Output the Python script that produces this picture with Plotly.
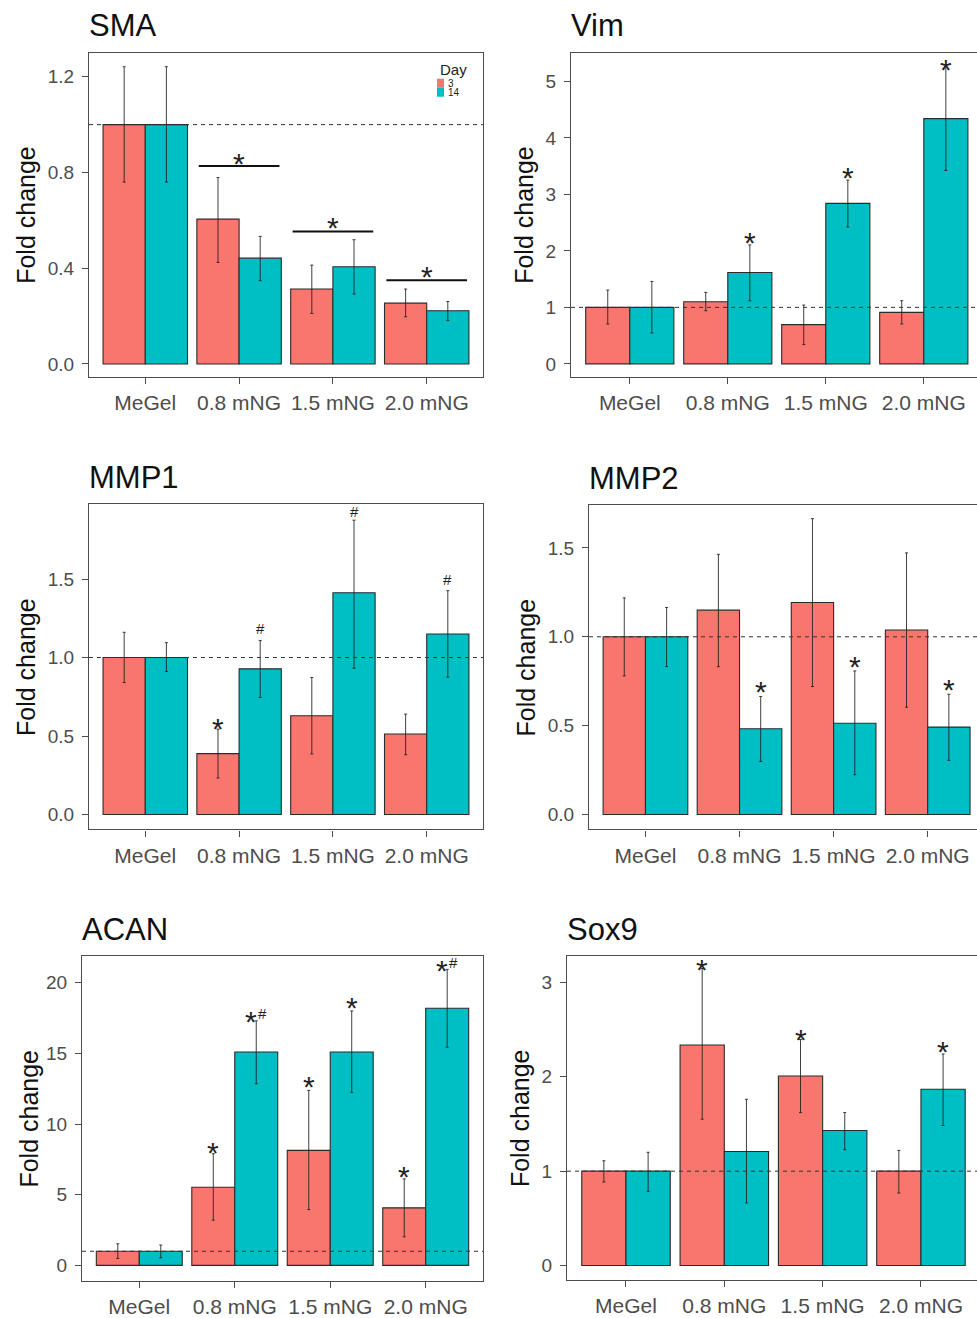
import numpy as np
import plotly.graph_objects as go

W, H = 977, 1318

categories = ["MeGel", "0.8 mNG", "1.5 mNG", "2.0 mNG"]
day_labels = ["3", "14"]
ref_value = 1.0

# ---------------- data (mean, upper error end, lower error end) ----------------
sma_d3 = [1.0, 0.605, 0.313, 0.254]
sma_d3_hi = [1.242, 0.779, 0.413, 0.313]
sma_d3_lo = [0.760, 0.424, 0.211, 0.197]
sma_d14 = [1.0, 0.442, 0.406, 0.222]
sma_d14_hi = [1.242, 0.533, 0.519, 0.261]
sma_d14_lo = [0.760, 0.348, 0.292, 0.181]
sma_sig_line_y = [0.827, 0.553, 0.350]      # for 0.8, 1.5, 2.0 mNG
sma_sig_star_y = [0.869, 0.605, 0.399]

vim_d3 = [1.0, 1.10, 0.694, 0.912]
vim_d3_hi = [1.306, 1.265, 1.041, 1.118]
vim_d3_lo = [0.706, 0.941, 0.341, 0.706]
vim_d14 = [1.0, 1.618, 2.841, 4.341]
vim_d14_hi = [1.459, 2.106, 3.253, 5.26]
vim_d14_lo = [0.547, 1.118, 2.424, 3.424]
vim_marks = [(1, "14", "*", 2.29), (2, "14", "*", 3.44), (3, "14", "*", 5.35)]

mmp1_d3 = [1.0, 0.388, 0.629, 0.513]
mmp1_d3_hi = [1.161, 0.544, 0.873, 0.640]
mmp1_d3_lo = [0.841, 0.233, 0.386, 0.381]
mmp1_d14 = [1.0, 0.928, 1.413, 1.150]
mmp1_d14_hi = [1.095, 1.108, 1.875, 1.426]
mmp1_d14_lo = [0.911, 0.746, 0.932, 0.875]
mmp1_marks = [(1, "3", "*", 0.60), (1, "14", "#", 1.186), (2, "14", "#", 1.93), (3, "14", "#", 1.494)]

mmp2_d3 = [1.0, 1.150, 1.193, 1.038]
mmp2_d3_hi = [1.219, 1.464, 1.665, 1.472]
mmp2_d3_lo = [0.780, 0.832, 0.720, 0.604]
mmp2_d14 = [1.0, 0.483, 0.514, 0.492]
mmp2_d14_hi = [1.165, 0.664, 0.808, 0.677]
mmp2_d14_lo = [0.832, 0.299, 0.224, 0.305]
mmp2_marks = [(1, "14", "*", 0.739), (2, "14", "*", 0.879), (3, "14", "*", 0.748)]

acan_d3 = [1.0, 5.53, 8.14, 4.07]
acan_d3_hi = [1.53, 7.90, 12.38, 6.12]
acan_d3_lo = [0.49, 3.20, 3.95, 2.02]
acan_d14 = [1.0, 15.1, 15.1, 18.19]
acan_d14_hi = [1.44, 17.3, 18.0, 20.94]
acan_d14_lo = [0.54, 12.85, 12.24, 15.44]
acan_marks = [(1, "3", "*", 8.54), (1, "14", "*#", 17.8), (2, "3", "*", 13.2),
              (2, "14", "*", 18.8), (3, "3", "*", 6.82), (3, "14", "*#", 21.4)]

sox9_d3 = [1.0, 2.337, 2.009, 1.0]
sox9_d3_hi = [1.11, 3.148, 2.397, 1.22]
sox9_d3_lo = [0.885, 1.551, 1.621, 0.768]
sox9_d14 = [1.0, 1.209, 1.431, 1.868]
sox9_d14_hi = [1.20, 1.762, 1.621, 2.242]
sox9_d14_lo = [0.786, 0.663, 1.227, 1.484]
sox9_marks = [(1, "3", "*", 3.22), (2, "3", "*", 2.478), (3, "14", "*", 2.348)]

# ---------------- styling ----------------
FONT = "Liberation Sans, Arial, Helvetica, sans-serif"
RED = "#F8766D"
TEAL = "#00BFC4"
AXC = "#4d4d4d"
TEXTC = "#4d4d4d"
STAR_SIZE = 30
HASH_SIZE = 15

panels = [
    dict(title="SMA", data=(sma_d3, sma_d3_hi, sma_d3_lo, sma_d14, sma_d14_hi, sma_d14_lo),
         marks=[], box=(89, 483, 53, 378), xr=[-0.6, 3.6], yr=[-0.054, 1.3],
         yt=[0, 0.4, 0.8, 1.2], yfmt=".1f", ylab_x=26, right=False),
    dict(title="Vim", data=(vim_d3, vim_d3_hi, vim_d3_lo, vim_d14, vim_d14_hi, vim_d14_lo),
         marks=vim_marks, box=(571, 977, 53, 378), xr=[-0.6, 3.543], yr=[-0.23, 5.506],
         yt=[0, 1, 2, 3, 4, 5], yfmt="d", ylab_x=524, right=True),
    dict(title="MMP1", data=(mmp1_d3, mmp1_d3_hi, mmp1_d3_lo, mmp1_d14, mmp1_d14_hi, mmp1_d14_lo),
         marks=mmp1_marks, box=(89, 483, 506, 832), xr=[-0.6, 3.6], yr=[-0.095, 1.975],
         yt=[0, 0.5, 1.0, 1.5], yfmt=".1f", ylab_x=26, right=False),
    dict(title="MMP2", data=(mmp2_d3, mmp2_d3_hi, mmp2_d3_lo, mmp2_d14, mmp2_d14_hi, mmp2_d14_lo),
         marks=mmp2_marks, box=(589, 977, 507, 832), xr=[-0.6, 3.524], yr=[-0.084, 1.739],
         yt=[0, 0.5, 1.0, 1.5], yfmt=".1f", ylab_x=526, right=True),
    dict(title="ACAN", data=(acan_d3, acan_d3_hi, acan_d3_lo, acan_d14, acan_d14_hi, acan_d14_lo),
         marks=acan_marks, box=(82, 483, 959, 1285), xr=[-0.6, 3.6], yr=[-1.11, 21.88],
         yt=[0, 5, 10, 15, 20], yfmt="d", ylab_x=29, right=False),
    dict(title="Sox9", data=(sox9_d3, sox9_d3_hi, sox9_d3_lo, sox9_d14, sox9_d14_hi, sox9_d14_lo),
         marks=sox9_marks, box=(567, 977, 959, 1284), xr=[-0.6, 3.57], yr=[-0.155, 3.28],
         yt=[0, 1, 2, 3], yfmt="d", ylab_x=520, right=True),
]


def px(x):
    return x / W


def py(y):
    return 1 - y / H


fig = go.Figure()
annotations = []
shapes = []
xpos = np.arange(len(categories))
dodge = {"3": -0.225, "14": 0.225}


def star(xa, ya, x, y, xshift=0):
    return dict(text="*", xref=xa, yref=ya, x=x, y=y, xanchor="center", yanchor="middle",
                showarrow=False, yshift=-8, xshift=xshift,
                font=dict(family=FONT, size=STAR_SIZE, color="#222222"))


def hashmark(xa, ya, x, y, xshift=0):
    return dict(text="#", xref=xa, yref=ya, x=x, y=y, xanchor="center", yanchor="middle",
                showarrow=False, yshift=0, xshift=xshift,
                font=dict(family=FONT, size=HASH_SIZE, color="#222222"))


for i, p in enumerate(panels, start=1):
    xa = "x" if i == 1 else f"x{i}"
    ya = "y" if i == 1 else f"y{i}"
    m3, h3, l3, m14, h14, l14 = [np.array(v, dtype=float) for v in p["data"]]
    for mean, hi, lo, col, nm in [(m3, h3, l3, RED, day_labels[0]), (m14, h14, l14, TEAL, day_labels[1])]:
        fig.add_trace(go.Bar(
            x=xpos, y=mean, name=nm, showlegend=False,
            marker=dict(color=col, line=dict(color="#2b2b2b", width=1.1)),
            error_y=dict(type="data", symmetric=False, array=hi - mean, arrayminus=mean - lo,
                         color="rgba(30,30,30,0.85)", thickness=1, width=1.5),
            xaxis=xa, yaxis=ya,
        ))
    l, r, t, b = p["box"]
    fig.update_layout(**{
        ("xaxis" if i == 1 else f"xaxis{i}"): dict(
            domain=[px(l), px(r)], range=p["xr"], anchor=ya,
            tickmode="array", tickvals=list(xpos), ticktext=categories,
            showline=True, mirror=True, linecolor=AXC, linewidth=1.2,
            ticks="outside", ticklen=6, tickcolor=AXC, tickwidth=1.2,
            showgrid=False, zeroline=False, ticklabelstandoff=1,
            tickfont=dict(family=FONT, size=21, color=TEXTC), fixedrange=True),
        ("yaxis" if i == 1 else f"yaxis{i}"): dict(
            domain=[py(b), py(t)], range=p["yr"], anchor=xa,
            tickmode="array", tickvals=p["yt"], tickformat=p["yfmt"],
            showline=True, mirror=not p["right"], linecolor=AXC, linewidth=1.2,
            ticks="outside", ticklen=6, tickcolor=AXC, tickwidth=1.2,
            showgrid=False, zeroline=False, ticklabelstandoff=4,
            tickfont=dict(family=FONT, size=19, color=TEXTC), fixedrange=True),
    })
    # reference dashed line at fold change = 1
    shapes.append(dict(type="line", xref=f"{xa} domain", yref=ya, x0=0, x1=1,
                       y0=ref_value, y1=ref_value,
                       line=dict(color="#333333", width=1, dash="4px,4px"), layer="above"))
    # panel title
    annotations.append(dict(text=p["title"], xref="paper", yref="paper", x=px(l - 2),
                            y=py(t - 27), xanchor="left", yanchor="middle", showarrow=False,
                            font=dict(family=FONT, size=31, color="#111111")))
    # y axis title
    annotations.append(dict(text="Fold change", xref="paper", yref="paper", x=px(p["ylab_x"]),
                            y=py((t + b) / 2), xanchor="center", yanchor="middle",
                            textangle=-90, showarrow=False,
                            font=dict(family=FONT, size=25, color="#111111")))
    # significance marks
    for (ci, day, txt, yv) in p["marks"]:
        xv = ci + dodge[day]
        if txt == "*":
            annotations.append(star(xa, ya, xv, yv))
        elif txt == "#":
            annotations.append(hashmark(xa, ya, xv, yv))
        else:
            annotations.append(star(xa, ya, xv, yv, xshift=-5))
            annotations.append(hashmark(xa, ya, xv, yv, xshift=6))

# SMA significance bars and stars (panel 1)
for k, (ly, sy) in enumerate(zip(sma_sig_line_y, sma_sig_star_y)):
    ci = k + 1
    fig.add_trace(go.Scatter(x=[ci - 0.43, ci + 0.43], y=[ly, ly], mode="lines",
                             line=dict(color="#111111", width=2), showlegend=False,
                             hoverinfo="skip", xaxis="x", yaxis="y"))
    annotations.append(star("x", "y", ci, sy))

# Legend (inside SMA panel, top right)
annotations.append(dict(text="Day", xref="paper", yref="paper", x=px(453), y=py(70),
                        xanchor="center", yanchor="middle", showarrow=False,
                        font=dict(family=FONT, size=15, color="#222222")))
for j, (col, lab) in enumerate([(RED, day_labels[0]), (TEAL, day_labels[1])]):
    y0 = 79 + j * 9
    shapes.append(dict(type="rect", xref="paper", yref="paper", x0=px(437), x1=px(444),
                       y0=py(y0), y1=py(y0 + 9), fillcolor=col, line=dict(width=0)))
    annotations.append(dict(text=lab, xref="paper", yref="paper", x=px(446), y=py(y0 + 4.5),
                            xanchor="left", yanchor="middle", showarrow=False,
                            font=dict(family=FONT, size=10, color="#222222")))

fig.update_layout(
    width=W, height=H, margin=dict(l=0, r=0, t=0, b=0),
    paper_bgcolor="white", plot_bgcolor="white",
    barmode="group", bargap=0.1, bargroupgap=0.0,
    showlegend=False, annotations=annotations, shapes=shapes,
    font=dict(family=FONT),
)

fig.write_html("out.html", config={"displayModeBar": False},
               post_script="document.body.style.margin='0';document.body.style.padding='0';"
                           "document.body.style.overflow='hidden';")
